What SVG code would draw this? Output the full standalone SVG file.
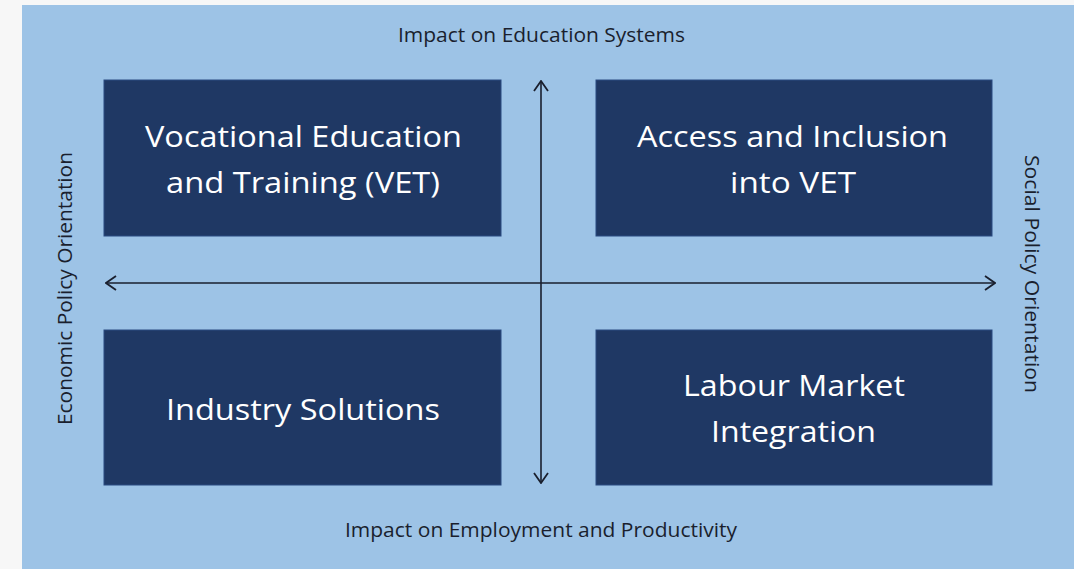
<svg xmlns="http://www.w3.org/2000/svg" width="1074" height="569" viewBox="0 0 1074 569">
<defs>
<style>
.box{fill:#1f3864;stroke:#2a4a80;stroke-width:1}
.bt{fill:#ffffff;font-family:"Open Sans","Liberation Sans",sans-serif;font-size:30px;text-anchor:middle}
.lbl{fill:#1a1f2e;font-family:"Open Sans","Liberation Sans",sans-serif;font-size:20px;text-anchor:middle}
.ax{stroke:#1a1f2e;stroke-width:1.6;fill:none}
</style>
<marker id="ah" viewBox="0 0 12 16" refX="11" refY="8" markerWidth="12" markerHeight="16" markerUnits="userSpaceOnUse" orient="auto-start-reverse">
<path d="M1,1 L11,8 L1,15" fill="none" stroke="#1a1f2e" stroke-width="1.8"/>
</marker>
</defs>
<rect x="0" y="0" width="1074" height="569" fill="#f7f7f7"/>
<rect x="22" y="5" width="1052" height="564" fill="#9dc3e6"/>
<g id="connectors">
<line class="ax" x1="541" y1="483" x2="541" y2="81" marker-start="url(#ah)" marker-end="url(#ah)"/>
<line class="ax" x1="106" y1="283" x2="995" y2="283" marker-start="url(#ah)" marker-end="url(#ah)"/>
</g>
<g id="node-vet">
<rect class="box" x="104" y="80" width="397" height="156"/>
<text class="bt" x="303.5" y="147" textLength="317" lengthAdjust="spacingAndGlyphs">Vocational Education</text>
<text class="bt" x="303" y="193" textLength="274" lengthAdjust="spacingAndGlyphs">and Training (VET)</text>
</g>
<g id="node-access">
<rect class="box" x="596" y="80" width="396" height="156"/>
<text class="bt" x="792.5" y="147" textLength="311" lengthAdjust="spacingAndGlyphs">Access and Inclusion</text>
<text class="bt" x="793" y="193" textLength="126" lengthAdjust="spacingAndGlyphs">into VET</text>
</g>
<g id="node-industry">
<rect class="box" x="104" y="330" width="397" height="155"/>
<text class="bt" x="303" y="420" textLength="274" lengthAdjust="spacingAndGlyphs">Industry Solutions</text>
</g>
<g id="node-labour">
<rect class="box" x="596" y="330" width="396" height="155"/>
<text class="bt" x="794" y="396" textLength="222" lengthAdjust="spacingAndGlyphs">Labour Market</text>
<text class="bt" x="793.5" y="442" textLength="165" lengthAdjust="spacingAndGlyphs">Integration</text>
</g>
<g id="labels">
<text class="lbl" x="541.5" y="42" textLength="287" lengthAdjust="spacingAndGlyphs">Impact on Education Systems</text>
<text class="lbl" x="541" y="537" textLength="392" lengthAdjust="spacingAndGlyphs">Impact on Employment and Productivity</text>
<text class="lbl" transform="translate(72,288.5) rotate(-90)" x="0" y="0" textLength="273" lengthAdjust="spacingAndGlyphs">Economic Policy Orientation</text>
<text class="lbl" transform="translate(1025,274) rotate(90)" x="0" y="0" textLength="238" lengthAdjust="spacingAndGlyphs">Social Policy Orientation</text>
</g>
</svg>
